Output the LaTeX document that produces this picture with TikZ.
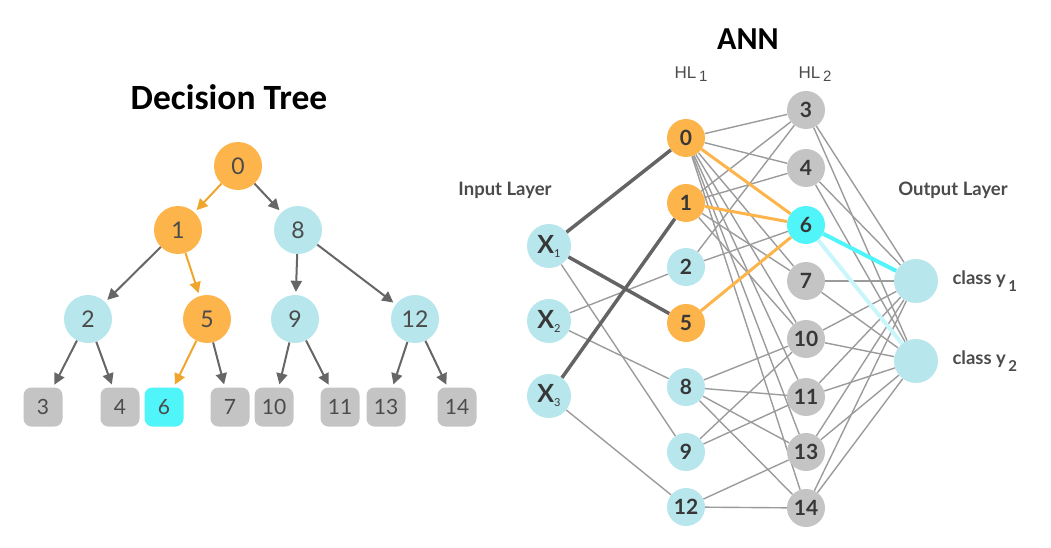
\documentclass[tikz,border=0pt]{standalone}
\usepackage{fontspec}
\setmainfont{Lato}
\newfontfamily\titlefont{Carlito}
\newfontfamily\hlfont{Liberation Sans}
\usetikzlibrary{arrows.meta}
\pgfdeclarelayer{bg}
\pgfsetlayers{bg,main}
\definecolor{orng}{RGB}{253,180,75}
\definecolor{orarrow}{RGB}{240,165,45}
\definecolor{lblue}{RGB}{183,230,236}
\definecolor{gnode}{RGB}{196,196,196}
\definecolor{cyanN}{RGB}{80,245,250}
\definecolor{cyanL}{RGB}{200,246,250}
\definecolor{txtgray}{RGB}{75,75,75}
\definecolor{darktxt}{RGB}{55,55,55}
\definecolor{arrgray}{RGB}{102,102,102}
\definecolor{edgegray}{RGB}{155,155,155}
\definecolor{darkedge}{RGB}{100,100,100}
\definecolor{lbltxt}{RGB}{75,75,75}
\begin{document}
\begin{tikzpicture}[x=1pt,y=-1pt,
  tc/.style={circle, minimum size=48pt, inner sep=0pt, font=\fontsize{23}{23}\selectfont, text=txtgray},
  tl/.style={rounded corners=8pt, minimum size=39pt, inner sep=0pt, fill=gnode, font=\fontsize{21}{21}\selectfont, text=txtgray},
  tarrow/.style={draw=arrgray, line width=2pt, -{Triangle[length=11pt,width=11pt]}, shorten >=3pt},
  toarrow/.style={draw=orarrow, line width=2pt, -{Triangle[length=11pt,width=11pt]}, shorten >=3pt},
  an/.style={circle, minimum size=38pt, inner sep=0pt, font=\bfseries\fontsize{21}{21}\selectfont, text=darktxt},
  inp/.style={circle, minimum size=44pt, inner sep=0pt, fill=lblue, text=darktxt},
  thin/.style={draw=edgegray, line width=1.4pt},
  thick/.style={draw=darkedge, line width=3.5pt},
  oedge/.style={draw=orng, line width=3pt},
  lbl/.style={font=\bfseries\fontsize{18.5}{18.5}\selectfont, text=lbltxt},
  hl/.style={font=\hlfont\fontsize{17}{17}\selectfont, text=lbltxt},
  ttl/.style={font=\titlefont\bfseries\fontsize{32}{32}\selectfont, text=black}
]
\useasboundingbox (0,0) rectangle (1051,548);

% ---------- Decision tree ----------
\node[ttl, font=\titlefont\bfseries\fontsize{35.5}{35.5}\selectfont] (dtitle) at (229,97) {Decision Tree};
\node[tc, fill=orng] (t0) at (238,166) {0};
\node[tc, fill=orng] (t1) at (178,230) {1};
\node[tc, fill=lblue] (t8) at (298,230) {8};
\node[tc, fill=lblue] (t2) at (88,319) {2};
\node[tc, fill=orng] (t5) at (207,319) {5};
\node[tc, fill=lblue] (t9) at (295,319) {9};
\node[tc, fill=lblue] (t12) at (415,319) {12};
\node[tl] (t3) at (43,407) {3};
\node[tl] (t4) at (120,407) {4};
\node[tl, fill=cyanN] (t6) at (164,407) {6};
\node[tl] (t7) at (230,407) {7};
\node[tl] (t10) at (274,407) {10};
\node[tl] (t11) at (340,407) {11};
\node[tl] (t13) at (386,407) {13};
\node[tl] (t14) at (457,407) {14};

\draw[toarrow] (t0) -- (t1);
\draw[tarrow] (t0) -- (t8);
\draw[tarrow] (t1) -- (t2);
\draw[toarrow] (t1) -- (t5);
\draw[tarrow] (t8) -- (t9);
\draw[tarrow] (t8) -- (t12);
\draw[tarrow] (t2) -- (t3);
\draw[tarrow] (t2) -- (t4);
\draw[toarrow] (t5) -- (t6);
\draw[tarrow] (t5) -- (t7);
\draw[tarrow] (t9) -- (t10);
\draw[tarrow] (t9) -- (t11);
\draw[tarrow] (t12) -- (t13);
\draw[tarrow] (t12) -- (t14);

% ---------- ANN ----------
\node[ttl] (atitle) at (748,39) {ANN};
\node[hl] (hl1) at (691,74) {HL\,\raisebox{-3pt}{\fontsize{15}{15}\selectfont 1}};
\node[hl] (hl2) at (815,74) {HL\,\raisebox{-3pt}{\fontsize{15}{15}\selectfont 2}};
\node[lbl] (inl) at (505,190) {Input Layer};
\node[lbl] (outl) at (953,190) {Output Layer};

\node[inp] (x1) at (549,246) {\fontsize{25}{25}\selectfont\bfseries X\raisebox{-4pt}{\fontsize{11}{11}\selectfont\mdseries 1}};
\node[inp] (x2) at (549,321) {\fontsize{25}{25}\selectfont\bfseries X\raisebox{-4pt}{\fontsize{11}{11}\selectfont\mdseries 2}};
\node[inp] (x3) at (549,396) {\fontsize{25}{25}\selectfont\bfseries X\raisebox{-4pt}{\fontsize{11}{11}\selectfont\mdseries 3}};

\node[an, fill=orng] (a0) at (686,138) {0};
\node[an, fill=orng] (a1) at (686,203) {1};
\node[an, fill=lblue] (a2) at (686,267) {2};
\node[an, fill=orng] (a5) at (686,323) {5};
\node[an, fill=lblue] (a8) at (686,387) {8};
\node[an, fill=lblue] (a9) at (686,452) {9};
\node[an, fill=lblue] (a12) at (686,507) {12};

\node[an, fill=gnode] (b3) at (806,110) {3};
\node[an, fill=gnode] (b4) at (806,168) {4};
\node[an, fill=cyanN] (b6) at (806,225) {6};
\node[an, fill=gnode] (b7) at (806,281) {7};
\node[an, fill=gnode] (b10) at (806,339) {10};
\node[an, fill=gnode] (b11) at (806,397) {11};
\node[an, fill=gnode] (b13) at (806,452) {13};
\node[an, fill=gnode] (b14) at (806,508) {14};

\node[circle, minimum size=44pt, inner sep=0pt, fill=lblue] (y1) at (916,281) {};
\node[circle, minimum size=44pt, inner sep=0pt, fill=lblue] (y2) at (916,361) {};
\node[lbl, anchor=west] (c1) at (949,281) {class y\raisebox{-7pt}{\fontsize{15}{15}\selectfont\,1}};
\node[lbl, anchor=west] (c2) at (949,361) {class y\raisebox{-7pt}{\fontsize{15}{15}\selectfont\,2}};

\begin{pgfonlayer}{bg}
% input -> HL1
\draw[thin] (x2) -- (a2);
\draw[thin] (x1) -- (a9);
\draw[thin] (x2) -- (a8);
\draw[thin] (x3) -- (a12);
\draw[thick] (x1) -- (a0);
\draw[thick] (x1) -- (a5);
\draw[thick] (x3) -- (a1);
% HL1 -> HL2
\foreach \t in {b3,b4,b7,b10,b11,b13,b14} \draw[thin] (a0) -- (\t);
\foreach \t in {b3,b4,b7,b10} \draw[thin] (a1) -- (\t);
\foreach \t in {b3,b6} \draw[thin] (a2) -- (\t);
\foreach \t in {b10,b11,b13,b14} \draw[thin] (a8) -- (\t);
\foreach \t in {b10,b11} \draw[thin] (a9) -- (\t);
\foreach \t in {b13,b14} \draw[thin] (a12) -- (\t);
\draw[oedge] (a0) -- (b6);
\draw[oedge] (a1) -- (b6);
\draw[oedge] (a5) -- (b6);
% HL2 -> output
\foreach \s in {b3,b4,b7,b10,b11,b13,b14} {\draw[thin] (\s) -- (y1); \draw[thin] (\s) -- (y2);}
\draw[draw=cyanL, line width=4pt] (b6) -- (y2);
\draw[draw=cyanN, line width=4pt] (b6) -- (y1);
\end{pgfonlayer}
\end{tikzpicture}
\end{document}
